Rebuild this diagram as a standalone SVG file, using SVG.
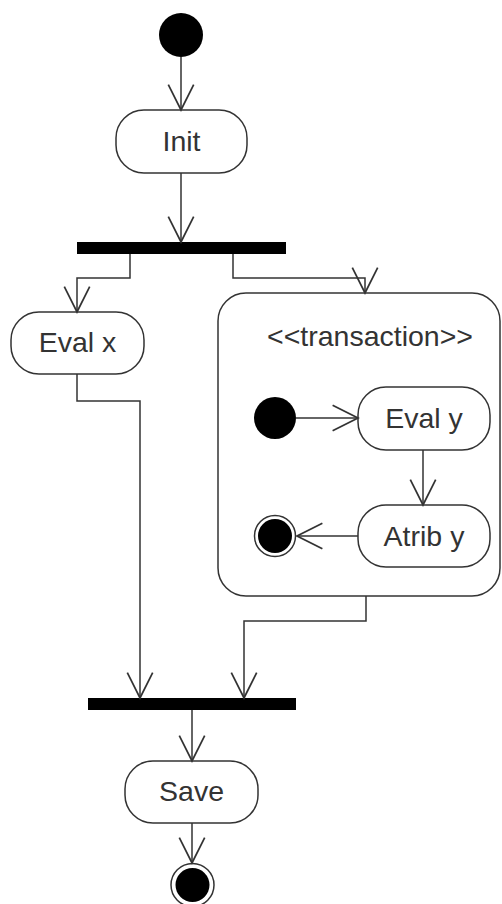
<svg xmlns="http://www.w3.org/2000/svg" width="502" height="904" viewBox="0 0 502 904">
<defs>
<style>
.act{fill:#fff;stroke:#333;stroke-width:1.5}
.lbl{font-family:"Liberation Sans",Arial,sans-serif;font-size:28.5px;fill:#333;text-anchor:middle}
.bar{fill:#000}
.edge{fill:none;stroke:#333;stroke-width:1.5}
</style>
<marker id="arr" markerUnits="userSpaceOnUse" markerWidth="30" markerHeight="30" viewBox="-24 -13 26 26" refX="0" refY="0" orient="auto">
<path d="M-22,-11 L0,0 L-22,11" fill="none" stroke="#333" stroke-width="1.5"/>
</marker>
</defs>
<rect width="502" height="904" fill="#fff"/>
<g id="start"><circle cx="181" cy="35" r="22" fill="#000"/></g>
<g id="init"><rect class="act" x="116" y="110" width="131" height="63" rx="28"/><text class="lbl" x="181.5" y="151">Init</text></g>
<g id="fork"><rect class="bar" x="77" y="242" width="209" height="12"/></g>
<g id="evalx"><rect class="act" x="11" y="312" width="133" height="62" rx="28"/><text class="lbl" x="77.5" y="352">Eval x</text></g>
<g id="transaction">
<rect class="act" x="218" y="293" width="282" height="303" rx="28"/>
<text class="lbl" x="370" y="346">&lt;&lt;transaction&gt;&gt;</text>
</g>
<g id="tstart"><circle cx="275" cy="418" r="21" fill="#000"/></g>
<g id="evaly"><rect class="act" x="358" y="387" width="132" height="63" rx="28"/><text class="lbl" x="424" y="428">Eval y</text></g>
<g id="atriby"><rect class="act" x="358" y="505" width="132" height="62" rx="28"/><text class="lbl" x="424" y="546">Atrib y</text></g>
<g id="tend"><circle cx="275" cy="536" r="20.5" fill="#fff" stroke="#333" stroke-width="1.5"/><circle cx="275" cy="536" r="17" fill="#000"/></g>
<g id="join"><rect class="bar" x="88" y="698" width="208" height="12"/></g>
<g id="save"><rect class="act" x="125" y="761" width="133" height="62" rx="28"/><text class="lbl" x="191.5" y="801">Save</text></g>
<g id="end"><circle cx="192.5" cy="885" r="21.5" fill="#fff" stroke="#333" stroke-width="1.5"/><circle cx="192.5" cy="885" r="17" fill="#000"/></g>
<g id="connectors">
<path class="edge" d="M181,57 V110" marker-end="url(#arr)"/>
<path class="edge" d="M181,173 V242" marker-end="url(#arr)"/>
<path class="edge" d="M130,254 V278 H77 V312" marker-end="url(#arr)"/>
<path class="edge" d="M233,254 V278 H365 V293" marker-end="url(#arr)"/>
<path class="edge" d="M77,374 V401 H140 V698" marker-end="url(#arr)"/>
<path class="edge" d="M296,418 H358" marker-end="url(#arr)"/>
<path class="edge" d="M423,450 V505" marker-end="url(#arr)"/>
<path class="edge" d="M358,536 H297" marker-end="url(#arr)"/>
<path class="edge" d="M366,596 V621 H244 V698" marker-end="url(#arr)"/>
<path class="edge" d="M192,710 V761" marker-end="url(#arr)"/>
<path class="edge" d="M192,823 V863" marker-end="url(#arr)"/>
</g>
</svg>
